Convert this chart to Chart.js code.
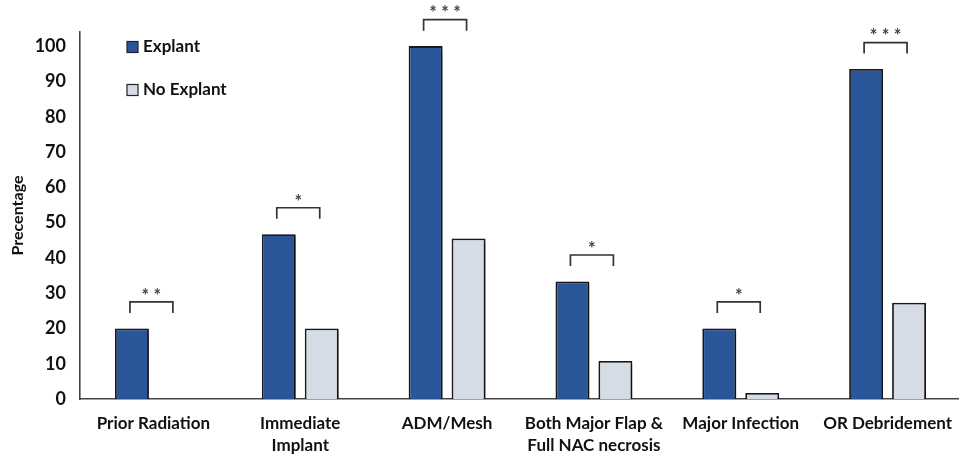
<!DOCTYPE html>
<html>
<head>
<meta charset="utf-8">
<script src="https://cdn.jsdelivr.net/npm/chart.js@4"></script>
<style>
  body { margin: 0; background: #fff; overflow: hidden; }
  #wrap { width: 965px; height: 456px; position: relative; }
</style>
</head>
<body>
<div id="wrap"><canvas id="chart"></canvas></div>
<script>
const categories = [
  ['Prior Radiation'],
  ['Immediate', 'Implant'],
  ['ADM/Mesh'],
  ['Both Major Flap &', 'Full NAC necrosis'],
  ['Major Infection'],
  ['OR Debridement']
];
const explant = [20, 46.7, 100, 33.3, 20, 93.5];
const noExplant = [0, 20, 45.5, 10.8, 1.7, 27.3];
const significance = ['**', '*', '***', '*', '*', '***'];
const yTicks = [0, 10, 20, 30, 40, 50, 60, 70, 80, 90, 100];

const FONT = 'Lato, "Open Sans", sans-serif';

// drop shadow behind bars
const shadowPlugin = {
  id: 'shadow',
  beforeDatasetsDraw(chart) {
    const ctx = chart.ctx;
    ctx.save();
    ctx.shadowColor = 'rgba(0,0,0,0.4)';
    ctx.shadowBlur = 4;
    ctx.shadowOffsetX = 3;
    ctx.shadowOffsetY = 2;
  },
  afterDatasetsDraw(chart) {
    chart.ctx.restore();
  }
};

// brackets with stars above each pair
const bracketPlugin = {
  id: 'brackets',
  afterDatasetsDraw(chart) {
    const ctx = chart.ctx;
    const y = chart.scales.y;
    const m0 = chart.getDatasetMeta(0).data;
    const m1 = chart.getDatasetMeta(1).data;
    ctx.save();
    ctx.strokeStyle = '#333';
    ctx.lineWidth = 1.7;
    ctx.fillStyle = '#444';
    ctx.font = 'bold 18px ' + FONT;
    ctx.textAlign = 'center';
    ctx.textBaseline = 'middle';
    significance.forEach((s, i) => {
      const top = y.getPixelForValue(Math.max(explant[i], noExplant[i]) + 7.5);
      const x1 = m0[i].x - 2;
      const x2 = m1[i].x - 2;
      ctx.beginPath();
      ctx.moveTo(x1, top + 11);
      ctx.lineTo(x1, top);
      ctx.lineTo(x2, top);
      ctx.lineTo(x2, top + 11);
      ctx.stroke();
      ctx.fillText(s.split('').join(' '), (x1 + x2) / 2, top - 6);
    });
    ctx.restore();
  }
};

// legend drawn inside the plot, top left
const legendPlugin = {
  id: 'innerLegend',
  afterDraw(chart) {
    const ctx = chart.ctx;
    const left = 127;
    const rows = [47, 90];
    ctx.save();
    ctx.font = 'bold 17px ' + FONT;
    ctx.textBaseline = 'middle';
    chart.data.datasets.forEach((ds, i) => {
      const cy = rows[i];
      ctx.fillStyle = ds.backgroundColor;
      ctx.fillRect(left, cy - 5.5, 11, 11);
      ctx.strokeStyle = '#222';
      ctx.lineWidth = 1.2;
      ctx.strokeRect(left, cy - 5.5, 11, 11);
      ctx.fillStyle = '#111';
      ctx.fillText(ds.label, left + 16, cy);
    });
    ctx.restore();
  }
};

new Chart(document.getElementById('chart'), {
  type: 'bar',
  data: {
    labels: categories,
    datasets: [
      {
        label: 'Explant',
        data: explant,
        backgroundColor: '#2a5599',
        borderColor: '#1a1a1a',
        borderWidth: 1.8,
        categoryPercentage: 0.585,
        barPercentage: 0.79
      },
      {
        label: 'No Explant',
        data: noExplant,
        backgroundColor: '#d5dce6',
        borderColor: '#1a1a1a',
        borderWidth: 1.8,
        categoryPercentage: 0.585,
        barPercentage: 0.79
      }
    ]
  },
  options: {
    responsive: true,
    maintainAspectRatio: false,
    animation: false,
    layout: { padding: { top: 32, right: 0, left: 0, bottom: 0 } },
    plugins: {
      legend: { display: false },
      tooltip: { enabled: false }
    },
    scales: {
      x: {
        grid: { display: false, drawTicks: false },
        border: { color: '#444', width: 1.6 },
        ticks: {
          color: '#111',
          padding: 13,
          maxRotation: 0,
          autoSkip: false,
          font: { family: FONT, size: 17, weight: 'bold', lineHeight: 1.3 }
        },
        afterFit(scale) { scale.height = 57; }
      },
      y: {
        min: 0,
        max: 104,
        grid: { display: false, drawTicks: false },
        border: { color: '#444', width: 1.6 },
        afterBuildTicks(scale) {
          scale.ticks = yTicks.map(v => ({ value: v }));
        },
        ticks: {
          color: '#111',
          padding: 14,
          font: { family: FONT, size: 18, weight: 'bold' }
        },
        title: {
          display: true,
          text: 'Precentage',
          color: '#111',
          padding: { top: 8, bottom: 0 },
          font: { family: FONT, size: 16, weight: 'bold' }
        },
        afterFit(scale) { scale.width = 80; }
      }
    }
  },
  plugins: [shadowPlugin, bracketPlugin, legendPlugin]
});
</script>
</body>
</html>
